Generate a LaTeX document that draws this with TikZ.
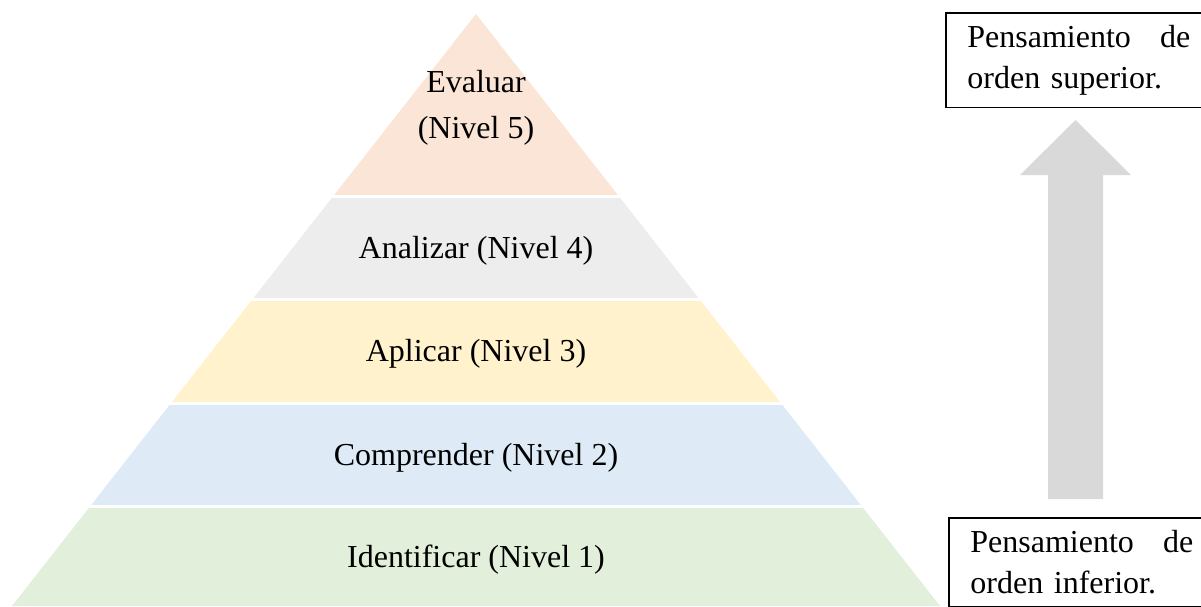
\documentclass[tikz,border=0pt]{standalone}
\usepackage{fontspec}
\setmainfont{Liberation Serif}
\definecolor{lvlfive}{HTML}{FBE5D6}
\definecolor{lvlfour}{HTML}{EDEDED}
\definecolor{lvlthree}{HTML}{FFF2CC}
\definecolor{lvltwo}{HTML}{DEEBF7}
\definecolor{lvlone}{HTML}{E2EFDA}
\definecolor{arrowgray}{HTML}{D9D9D9}
\begin{document}
\begin{tikzpicture}[x=0.5pt,y=-0.5pt,
  lbl/.style={font=\fontsize{16}{19}\selectfont, inner sep=0pt, anchor=base},
  sidebox/.style={anchor=north west, text width=125pt,
    align=left, inner xsep=10.5pt, inner ysep=6pt, font=\fontsize{16}{20.5}\selectfont},
  boxline/.style={draw=black, line width=0.6pt}]
\useasboundingbox (0,0) rectangle (1201,606);
% pyramid bands
\begin{scope}
  \clip (476,14) -- (940,606) -- (12,606) -- cycle;
  \fill[lvlfive]  (0,0)   rectangle (1201,195);
  \fill[lvlfour]  (0,198) rectangle (1201,298);
  \fill[lvlthree] (0,301) rectangle (1201,402);
  \fill[lvltwo]   (0,405) rectangle (1201,505);
  \fill[lvlone]   (0,508) rectangle (1201,610);
\end{scope}
% labels
\node[lbl] (n5a) at (476,92)  {Evaluar};
\node[lbl] (n5b) at (476,138) {(Nivel 5)};
\node[lbl] (n4)  at (476,258) {Analizar (Nivel 4)};
\node[lbl] (n3)  at (476,361) {Aplicar (Nivel 3)};
\node[lbl] (n2)  at (476,465) {Comprender (Nivel 2)};
\node[lbl] (n1)  at (476,567) {Identificar (Nivel 1)};
% side boxes (right edge runs off the page)
\node[sidebox] (sup) at (946,13)  {Pensamiento\hfill de\rule{13.5pt}{0pt}\\orden superior.};
\node[sidebox] (inf) at (949,518) {Pensamiento\hfill de\rule{13.5pt}{0pt}\\orden inferior.};
\draw[boxline] (sup.north east) -- (sup.north west) -- (sup.south west) -- (sup.south east);
\draw[boxline] (inf.north east) -- (inf.north west) -- (inf.south west) -- (inf.south east);
% block arrow
\fill[arrowgray] (1048,499) -- (1048,175) -- (1020,175) -- (1075.5,120)
  -- (1131,175) -- (1103,175) -- (1103,499) -- cycle;
\end{tikzpicture}
\end{document}
